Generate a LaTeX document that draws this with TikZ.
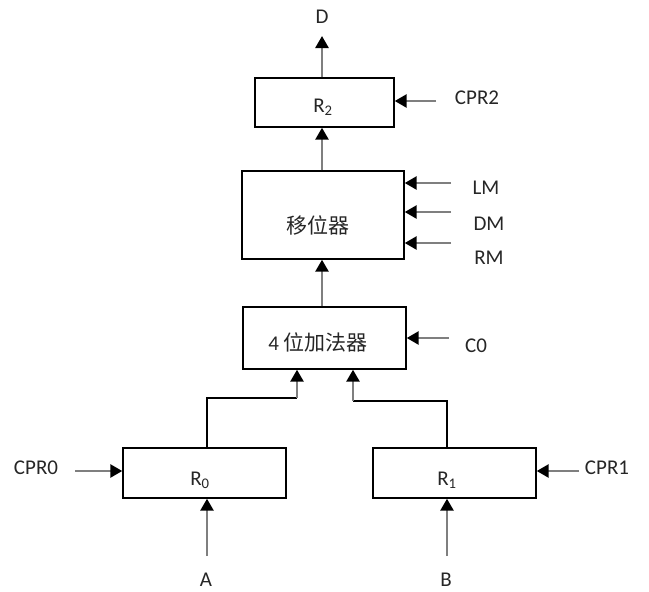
\documentclass[tikz,border=0pt]{standalone}
\usepackage{fontspec}
\setmainfont{Carlito}
\newfontfamily\cjk{Noto Sans CJK SC}
\usetikzlibrary{arrows.meta}
\definecolor{wire}{HTML}{7F7F7F}
\tikzset{
  box/.style={draw=black,line width=1.4pt,inner sep=0pt},
  arr/.style={draw=wire,line width=2.6pt,-{Triangle[length=12pt,width=13pt,color=black]}},
  thin/.style={draw=black,line width=1.3pt},
  lbl/.style={inner sep=0pt,font=\fontsize{21}{21}\selectfont,text=black!85}
}
\begin{document}
\begin{tikzpicture}[x=1pt,y=-1pt]
\useasboundingbox (0,0) rectangle (649,592);
% boxes
\node[box,minimum width=139pt,minimum height=49pt] (R2) at (324.5,102.5) {};
\node[box,minimum width=162pt,minimum height=88pt] (sh) at (323,215) {};
\node[box,minimum width=163pt,minimum height=62pt] (add) at (324.5,338) {};
\node[box,minimum width=163pt,minimum height=50pt] (R0) at (204.5,473) {};
\node[box,minimum width=163pt,minimum height=50pt] (R1) at (454.5,473) {};
% box texts
\node[lbl] (tR2) at (323,107) {R\textsubscript{2}};
\node[lbl] (tsh) at (318,225) {\cjk 移位器};
\node[lbl] (tadd) at (318,342) {4 {\cjk 位加法器}};
\node[lbl] (tR0) at (200,480) {R\textsubscript{0}};
\node[lbl] (tR1) at (447,480) {R\textsubscript{1}};
% outside labels
\node[lbl] (D) at (322,17) {D};
\node[lbl] (CPR2) at (477,98) {CPR2};
\node[lbl] (LM) at (486,188) {LM};
\node[lbl] (DM) at (489,224) {DM};
\node[lbl] (RM) at (489,258) {RM};
\node[lbl] (C0) at (476,346) {C0};
\node[lbl] (CPR0) at (36,468) {CPR0};
\node[lbl] (CPR1) at (607,468) {CPR1};
\node[lbl] (A) at (206,580) {A};
\node[lbl] (B) at (446,580) {B};
% helper coordinates
\coordinate (dcol) at (322,0);
\coordinate (Dtip) at (322,36);
\coordinate (sCPR2) at (436,101);
\coordinate (sLM) at (451,183);
\coordinate (sDM) at (451,212);
\coordinate (sRM) at (451,243);
\coordinate (sC0) at (449,338);
\coordinate (sCPR0) at (75,471);
\coordinate (sCPR1) at (579,471);
\coordinate (sA) at (207,556);
\coordinate (sB) at (447,556);
\coordinate (aL) at (297,0);
\coordinate (aR) at (353,0);
\coordinate (jL) at (297,398);
\coordinate (jR) at (353,401);
% vertical data path
\draw[arr] (R2.north -| dcol) -- (Dtip);
\draw[arr] (sh.north -| dcol) -- (R2.south -| dcol);
\draw[arr] (add.north -| dcol) -- (sh.south -| dcol);
% control inputs
\draw[arr] (sCPR2) -- (sCPR2 -| R2.east);
\draw[arr] (sLM) -- (sLM -| sh.east);
\draw[arr] (sDM) -- (sDM -| sh.east);
\draw[arr] (sRM) -- (sRM -| sh.east);
\draw[arr] (sC0) -- (sC0 -| add.east);
\draw[arr] (sCPR0) -- (sCPR0 -| R0.west);
\draw[arr] (sCPR1) -- (sCPR1 -| R1.east);
% A and B
\draw[arr] (sA) -- (sA |- R0.south);
\draw[arr] (sB) -- (sB |- R1.south);
% registers to adder
\draw[thin] (R0.north -| sA) |- (jL);
\draw[arr] (jL) -- (add.south -| aL);
\draw[thin] (R1.north -| sB) |- (jR);
\draw[arr] (jR) -- (add.south -| aR);
\end{tikzpicture}
\end{document}
